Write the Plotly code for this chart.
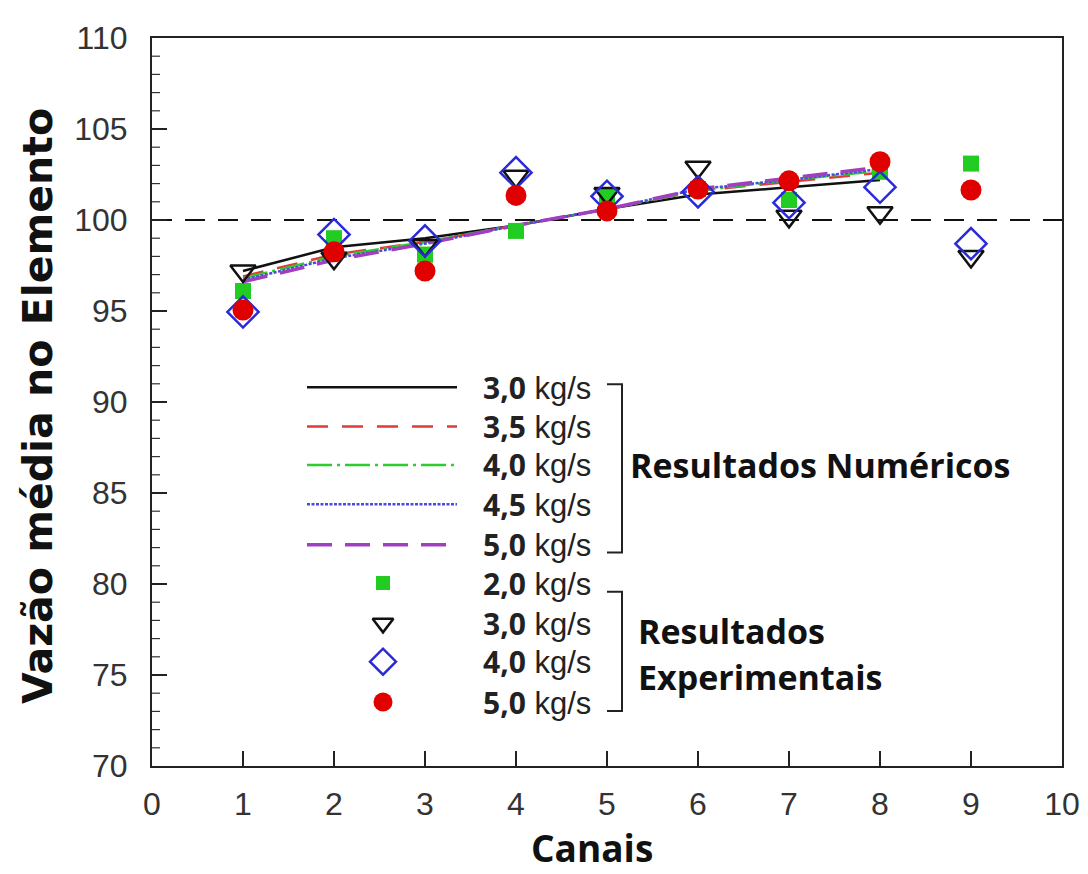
import plotly.graph_objects as go

# ---------------- data ----------------
channels_num = [1, 2, 3, 4, 5, 6, 7, 8]
num_30 = [97.2, 98.5, 99.0, 99.7, 100.6, 101.4, 101.8, 102.2]
num_35 = [96.9, 98.1, 98.8, 99.7, 100.6, 101.6, 102.1, 102.6]
num_40 = [96.8, 98.0, 98.8, 99.7, 100.6, 101.6, 102.2, 102.7]
num_45 = [96.7, 97.9, 98.7, 99.7, 100.6, 101.7, 102.2, 102.8]
num_50 = [96.6, 97.8, 98.7, 99.7, 100.6, 101.7, 102.3, 102.9]

channels_exp = [1, 2, 3, 4, 5, 6, 7, 8, 9]
exp_20 = [96.1, 99.0, 98.1, 99.4, 101.3, 101.7, 101.1, 102.65, 103.1]
exp_30 = [97.2, 97.9, 98.6, 102.4, 101.45, 102.9, 100.2, 100.4, 98.0]
exp_40 = [94.95, 99.2, 98.85, 102.6, 101.3, 101.55, 100.95, 101.8, 98.7]
exp_50 = [95.05, 98.25, 97.2, 101.35, 100.5, 101.7, 102.15, 103.2, 101.65]

ref_value = 100
x_ticks = list(range(0, 11))
y_ticks = list(range(70, 111, 5))
y_minor_ticks = [v for v in range(70, 111) if v % 5 != 0]

num_labels = ["3,0", "3,5", "4,0", "4,5", "5,0"]
exp_labels = ["2,0", "3,0", "4,0", "5,0"]

# ---------------- layout geometry (page pixels) ----------------
W, H = 1088, 874
OFF = 8  # default body margin of the html page
L, R, T, B = 152, 1062, 26, 766

num_styles = [
    dict(color="#111111", dash="solid", width=2.5),
    dict(color="#e03a3a", dash="21px,14px", width=2.5),
    dict(color="#2ecc2e", dash="25px,5px,3px,5px", width=2.5),
    dict(color="#4a4ae0", dash="3px,1.5px", width=2.5),
    dict(color="#a040c0", dash="25px,13px", width=3.5),
]
exp_styles = [
    dict(symbol="square", size=16, color="#22cc22", line=dict(width=0)),
    dict(symbol="triangle-down-open", size=22, color="#111111", line=dict(width=2.5, color="#111111")),
    dict(symbol="diamond-open", size=24, color="#2a2ad8", line=dict(width=2.5, color="#2a2ad8")),
    dict(symbol="circle", size=21, color="#e00000", line=dict(width=0)),
]

fig = go.Figure()

# reference dashed line at 100
fig.add_shape(type="line", xref="paper", yref="y", x0=0, x1=1, y0=ref_value, y1=ref_value,
              line=dict(color="#111111", width=2, dash="20px,13px"), layer="below")

num_series = [num_30, num_35, num_40, num_45, num_50]
for vals, st in zip(num_series, num_styles):
    fig.add_trace(go.Scatter(x=channels_num, y=vals, mode="lines", line=st,
                             showlegend=False, hoverinfo="skip"))

exp_series = [exp_20, exp_30, exp_40, exp_50]
for vals, st in zip(exp_series, exp_styles):
    fig.add_trace(go.Scatter(x=channels_exp, y=vals, mode="markers", marker=st,
                             showlegend=False, hoverinfo="skip"))

# ---------------- helpers ----------------
def px(x):
    return (x - L) / (R - L)

def py(y):
    return (B - y) / (B - T)

# minor y ticks (inside, on the left axis)
for v in y_minor_ticks:
    fig.add_shape(type="line", xref="paper", yref="y", x0=0, x1=px(L + 8), y0=v, y1=v,
                  line=dict(color="#333333", width=1.2))

# ---------------- custom legend ----------------
num_rows_y = [381, 421, 460, 500, 541]
exp_rows_y = [580, 621, 660, 701]
line_x0, line_x1 = 307, 457
marker_x = 383
text_x = 484

for yy, st in zip(num_rows_y, num_styles):
    fig.add_trace(go.Scatter(x=[line_x0, line_x1], y=[yy, yy], mode="lines", line=st,
                             xaxis="x2", yaxis="y2", showlegend=False, hoverinfo="skip"))
legend_marker_sizes = [14, 18, 20, 19]
for yy, st, sz in zip(exp_rows_y, exp_styles, legend_marker_sizes):
    mk = dict(st)
    mk["size"] = sz
    fig.add_trace(go.Scatter(x=[marker_x], y=[yy], mode="markers", marker=mk,
                             xaxis="x2", yaxis="y2", showlegend=False, hoverinfo="skip"))

lab_font = dict(family="Liberation Sans, Arial, sans-serif", size=31, color="#222222")
for yy, lab in zip(num_rows_y + exp_rows_y, num_labels + exp_labels):
    fig.add_annotation(xref="paper", yref="paper", x=px(text_x - 3), y=py(yy),
                       xanchor="left", yanchor="middle", showarrow=False,
                       text=f"<span style='font-family:Open Sans;font-size:30px'><b>{lab}</b></span> kg/s",
                       font=lab_font)

def bracket(y0, y1):
    path = f"M {px(607)},{py(y0)} L {px(622)},{py(y0)} L {px(622)},{py(y1)} L {px(607)},{py(y1)}"
    fig.add_shape(type="path", xref="paper", yref="paper", path=path,
                  line=dict(color="#222222", width=2))

bracket(378, 549)
bracket(589, 710)

grp_font = dict(family="Open Sans, Noto Sans, sans-serif", size=34, color="#111111")
fig.add_annotation(xref="paper", yref="paper", x=px(628), y=py(460), xanchor="left", yanchor="middle",
                   showarrow=False, text="<b>Resultados Numéricos</b>", font=grp_font)
fig.add_annotation(xref="paper", yref="paper", x=px(636), y=py(629), xanchor="left", yanchor="middle",
                   showarrow=False, text="<b>Resultados</b>", font=grp_font)
fig.add_annotation(xref="paper", yref="paper", x=px(636), y=py(676), xanchor="left", yanchor="middle",
                   showarrow=False, text="<b>Experimentais</b>", font=grp_font)

# axis titles
fig.add_annotation(xref="paper", yref="paper", x=px(38), y=py(400), xanchor="center", yanchor="middle",
                   showarrow=False, textangle=-90, text="<b>Vazão média no Elemento</b>",
                   font=dict(family="DejaVu Sans, sans-serif", size=41, color="#111111"))
fig.add_annotation(xref="paper", yref="paper", x=px(592), y=py(849), xanchor="center", yanchor="middle",
                   showarrow=False, text="<b>Canais</b>",
                   font=dict(family="Open Sans, Noto Sans, sans-serif", size=37, color="#111111"))

# ---------------- axes ----------------
tick_font = dict(family="Liberation Sans, Arial, sans-serif", size=32, color="#333333")

fig.update_layout(
    width=W, height=H,
    margin=dict(l=L - OFF, r=W - (R - OFF), t=T - OFF, b=H - (B - OFF), pad=0),
    paper_bgcolor="white", plot_bgcolor="white",
    xaxis=dict(range=[0, 10], tickmode="array", tickvals=x_ticks, ticks="inside", ticklen=15, tickwidth=1.5,
               tickcolor="#222222", showline=True, linecolor="#222222", linewidth=2, mirror=True,
               showgrid=False, zeroline=False, tickfont=tick_font, ticklabelstandoff=9),
    yaxis=dict(range=[70, 110], tickmode="array", tickvals=y_ticks, ticks="inside", ticklen=15, tickwidth=2,
               tickcolor="#222222", showline=True, linecolor="#222222", linewidth=2, mirror=True,
               showgrid=False, zeroline=False, tickfont=tick_font, ticklabelstandoff=16),
    xaxis2=dict(overlaying="x", range=[L, R], visible=False, fixedrange=True),
    yaxis2=dict(overlaying="y", range=[B, T], visible=False, fixedrange=True),
)

fig.write_html("out.html")
